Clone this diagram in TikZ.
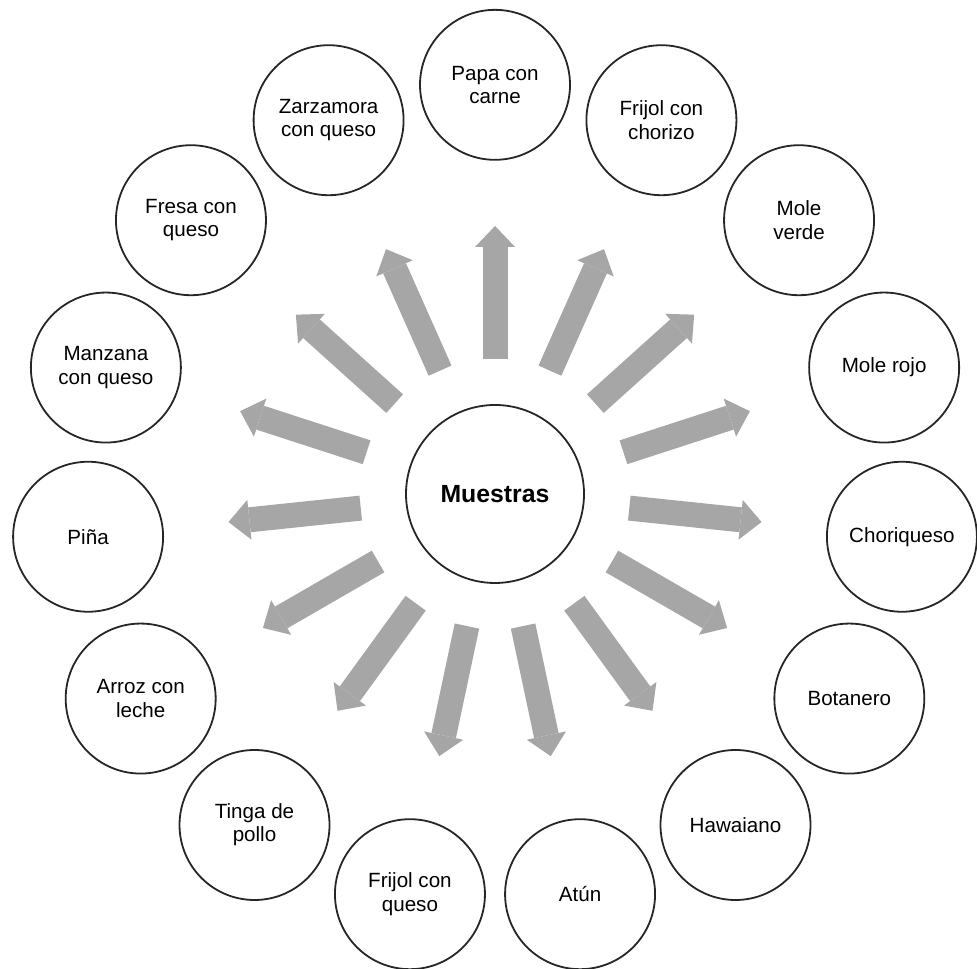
\documentclass[tikz,border=0pt]{standalone}
\usepackage{fontspec}
\setmainfont{Liberation Sans}
\usepackage{tikz}
\usetikzlibrary{arrows.meta,calc}
\definecolor{spokegray}{RGB}{166,166,166}

\begin{document}
\begin{tikzpicture}[
    sample/.style={circle, draw=black!85, line width=0.9pt, minimum size=75pt, inner sep=0pt, align=center, font=\fontsize{10.3}{11.6}\selectfont},
    spoke/.style={-{Triangle[width=20pt,length=10.5pt,line width=0pt]}, line width=12.5pt, draw=spokegray}
]
\useasboundingbox (-8.699,-8.347) rectangle (8.470,8.681);
% Center
\node[sample, minimum size=89pt, font=\fontsize{12.4}{14}\selectfont\bfseries] (m_center) at (0,0) {Muestras};

% Samples on the ring
\node[sample] (m_papa) at (90:7.19) {Papa con\\carne};
\node[sample] (m_frijolch) at (66:7.19) {Frijol con\\chorizo};
\node[sample] (m_moleverde) at (42:7.19) {Mole\\verde};
\node[sample] (m_molerojo) at (18:7.19) {Mole rojo};
\node[sample] (m_choriq) at (-6:7.19) {Choriqueso};
\node[sample] (m_botanero) at (-30:7.19) {Botanero};
\node[sample] (m_hawaiano) at (-54:7.19) {Hawaiano};
\node[sample] (m_atun) at (-78:7.19) {Atún};
\node[sample] (m_frijolq) at (-102:7.19) {Frijol con\\queso};
\node[sample] (m_tinga) at (-126:7.19) {Tinga de\\pollo};
\node[sample] (m_arroz) at (-150:7.19) {Arroz con\\leche};
\node[sample] (m_pina) at (-174:7.19) {Piña};
\node[sample] (m_manzana) at (162:7.19) {Manzana\\con queso};
\node[sample] (m_fresa) at (138:7.19) {Fresa con\\queso};
\node[sample] (m_zarza) at (114:7.19) {Zarzamora\\con queso};

% Spokes
\draw[spoke] ($(m_center)!0.33!(m_papa)$) -- ($(m_center)!0.655!(m_papa)$);
\draw[spoke] ($(m_center)!0.33!(m_frijolch)$) -- ($(m_center)!0.655!(m_frijolch)$);
\draw[spoke] ($(m_center)!0.33!(m_moleverde)$) -- ($(m_center)!0.655!(m_moleverde)$);
\draw[spoke] ($(m_center)!0.33!(m_molerojo)$) -- ($(m_center)!0.655!(m_molerojo)$);
\draw[spoke] ($(m_center)!0.33!(m_choriq)$) -- ($(m_center)!0.655!(m_choriq)$);
\draw[spoke] ($(m_center)!0.33!(m_botanero)$) -- ($(m_center)!0.655!(m_botanero)$);
\draw[spoke] ($(m_center)!0.33!(m_hawaiano)$) -- ($(m_center)!0.655!(m_hawaiano)$);
\draw[spoke] ($(m_center)!0.33!(m_atun)$) -- ($(m_center)!0.655!(m_atun)$);
\draw[spoke] ($(m_center)!0.33!(m_frijolq)$) -- ($(m_center)!0.655!(m_frijolq)$);
\draw[spoke] ($(m_center)!0.33!(m_tinga)$) -- ($(m_center)!0.655!(m_tinga)$);
\draw[spoke] ($(m_center)!0.33!(m_arroz)$) -- ($(m_center)!0.655!(m_arroz)$);
\draw[spoke] ($(m_center)!0.33!(m_pina)$) -- ($(m_center)!0.655!(m_pina)$);
\draw[spoke] ($(m_center)!0.33!(m_manzana)$) -- ($(m_center)!0.655!(m_manzana)$);
\draw[spoke] ($(m_center)!0.33!(m_fresa)$) -- ($(m_center)!0.655!(m_fresa)$);
\draw[spoke] ($(m_center)!0.33!(m_zarza)$) -- ($(m_center)!0.655!(m_zarza)$);
\end{tikzpicture}
\end{document}
